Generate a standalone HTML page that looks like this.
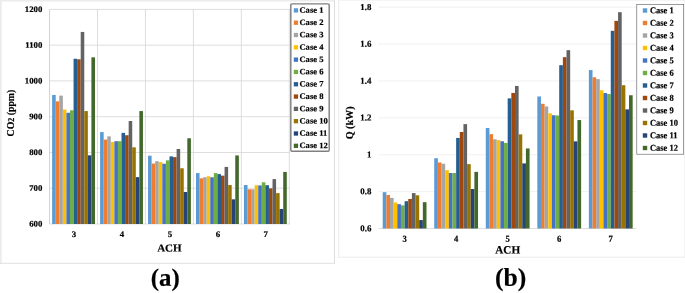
<!DOCTYPE html>
<html><head><meta charset="utf-8"><title>Figure</title>
<style>html,body{margin:0;padding:0;background:#fff;}svg{display:block;}text{font-family:"Liberation Serif","Times New Roman",serif;font-weight:bold;fill:#000;stroke:#000;stroke-width:0.18px;}</style>
</head><body>
<svg width="685" height="293" viewBox="0 0 685 293">
<rect x="0" y="0" width="685" height="293" fill="#ffffff"/>
<g>
<rect x="0" y="0" width="1.7" height="263.8" fill="#ececec"/>
<rect x="0" y="0" width="335" height="1.5" fill="#ececec"/>
<rect x="334" y="0" width="1" height="263.8" fill="#dedede"/>
<rect x="0" y="262.8" width="335" height="1" fill="#e0e0e0"/>
<rect x="338.2" y="0" width="1" height="257.4" fill="#ececec"/>
<rect x="338.2" y="0" width="346.8" height="0.8" fill="#f2f2f2"/>
<rect x="684.3" y="0" width="0.7" height="257.4" fill="#f0f0f0"/>
<rect x="338.2" y="256.7" width="346.8" height="1" fill="#ebebeb"/>
</g>
<g stroke="#d9d9d9" stroke-width="0.9">
<line x1="49.55" y1="224.00" x2="290.10" y2="224.00"/>
<line x1="49.55" y1="188.23" x2="290.10" y2="188.23"/>
<line x1="49.55" y1="152.47" x2="290.10" y2="152.47"/>
<line x1="49.55" y1="116.70" x2="290.10" y2="116.70"/>
<line x1="49.55" y1="80.93" x2="290.10" y2="80.93"/>
<line x1="49.55" y1="45.17" x2="290.10" y2="45.17"/>
<line x1="49.55" y1="9.40" x2="290.10" y2="9.40"/>
<line x1="49.55" y1="9.40" x2="49.55" y2="224.00" stroke="#cdcdcd"/>
<line x1="97.50" y1="9.40" x2="97.50" y2="224.00"/>
<line x1="145.45" y1="9.40" x2="145.45" y2="224.00"/>
<line x1="193.40" y1="9.40" x2="193.40" y2="224.00"/>
<line x1="241.35" y1="9.40" x2="241.35" y2="224.00"/>
<line x1="289.30" y1="9.40" x2="289.30" y2="224.00"/>
</g>
<g>
<rect x="52.15" y="94.99" width="3.57" height="129.01" fill="#5B9BD5"/>
<rect x="55.72" y="101.32" width="3.57" height="122.68" fill="#ED7D31"/>
<rect x="59.29" y="95.60" width="3.57" height="128.40" fill="#A5A5A5"/>
<rect x="62.86" y="109.55" width="3.57" height="114.45" fill="#FFC000"/>
<rect x="66.43" y="112.77" width="3.57" height="111.23" fill="#4472C4"/>
<rect x="70.00" y="110.26" width="3.57" height="113.74" fill="#70AD47"/>
<rect x="73.57" y="58.76" width="3.57" height="165.24" fill="#255E91"/>
<rect x="77.14" y="59.29" width="3.57" height="164.71" fill="#9E480E"/>
<rect x="80.71" y="31.93" width="3.57" height="192.07" fill="#636363"/>
<rect x="84.28" y="111.08" width="3.57" height="112.92" fill="#997300"/>
<rect x="87.85" y="155.33" width="3.57" height="68.67" fill="#264478"/>
<rect x="91.42" y="57.33" width="3.57" height="166.67" fill="#43682B"/>
<rect x="100.10" y="132.08" width="3.57" height="91.92" fill="#5B9BD5"/>
<rect x="103.67" y="139.59" width="3.57" height="84.41" fill="#ED7D31"/>
<rect x="107.24" y="136.37" width="3.57" height="87.63" fill="#A5A5A5"/>
<rect x="110.81" y="142.09" width="3.57" height="81.91" fill="#FFC000"/>
<rect x="114.38" y="141.20" width="3.57" height="82.80" fill="#4472C4"/>
<rect x="117.95" y="141.20" width="3.57" height="82.80" fill="#70AD47"/>
<rect x="121.52" y="132.90" width="3.57" height="91.10" fill="#255E91"/>
<rect x="125.09" y="135.23" width="3.57" height="88.77" fill="#9E480E"/>
<rect x="128.66" y="120.99" width="3.57" height="103.01" fill="#636363"/>
<rect x="132.23" y="147.35" width="3.57" height="76.65" fill="#997300"/>
<rect x="135.80" y="177.15" width="3.57" height="46.85" fill="#264478"/>
<rect x="139.37" y="111.08" width="3.57" height="112.92" fill="#43682B"/>
<rect x="148.05" y="155.69" width="3.57" height="68.31" fill="#5B9BD5"/>
<rect x="151.62" y="163.55" width="3.57" height="60.45" fill="#ED7D31"/>
<rect x="155.19" y="161.23" width="3.57" height="62.77" fill="#A5A5A5"/>
<rect x="158.76" y="162.05" width="3.57" height="61.95" fill="#FFC000"/>
<rect x="162.33" y="163.73" width="3.57" height="60.27" fill="#4472C4"/>
<rect x="165.90" y="160.34" width="3.57" height="63.66" fill="#70AD47"/>
<rect x="169.47" y="156.40" width="3.57" height="67.60" fill="#255E91"/>
<rect x="173.04" y="157.12" width="3.57" height="66.88" fill="#9E480E"/>
<rect x="176.61" y="149.00" width="3.57" height="75.00" fill="#636363"/>
<rect x="180.18" y="168.28" width="3.57" height="55.72" fill="#997300"/>
<rect x="183.75" y="192.02" width="3.57" height="31.98" fill="#264478"/>
<rect x="187.32" y="138.27" width="3.57" height="85.73" fill="#43682B"/>
<rect x="196.00" y="173.07" width="3.57" height="50.93" fill="#5B9BD5"/>
<rect x="199.57" y="178.29" width="3.57" height="45.71" fill="#ED7D31"/>
<rect x="203.14" y="177.29" width="3.57" height="46.71" fill="#A5A5A5"/>
<rect x="206.71" y="176.25" width="3.57" height="47.75" fill="#FFC000"/>
<rect x="210.28" y="177.29" width="3.57" height="46.71" fill="#4472C4"/>
<rect x="213.85" y="173.07" width="3.57" height="50.93" fill="#70AD47"/>
<rect x="217.42" y="174.11" width="3.57" height="49.89" fill="#255E91"/>
<rect x="220.99" y="175.64" width="3.57" height="48.36" fill="#9E480E"/>
<rect x="224.56" y="166.92" width="3.57" height="57.08" fill="#636363"/>
<rect x="228.13" y="185.01" width="3.57" height="38.99" fill="#997300"/>
<rect x="231.70" y="199.32" width="3.57" height="24.68" fill="#264478"/>
<rect x="235.27" y="155.44" width="3.57" height="68.56" fill="#43682B"/>
<rect x="243.95" y="185.01" width="3.57" height="38.99" fill="#5B9BD5"/>
<rect x="247.52" y="189.31" width="3.57" height="34.69" fill="#ED7D31"/>
<rect x="251.09" y="189.31" width="3.57" height="34.69" fill="#A5A5A5"/>
<rect x="254.66" y="185.19" width="3.57" height="38.81" fill="#FFC000"/>
<rect x="258.23" y="185.44" width="3.57" height="38.56" fill="#4472C4"/>
<rect x="261.80" y="182.30" width="3.57" height="41.70" fill="#70AD47"/>
<rect x="265.37" y="185.19" width="3.57" height="38.81" fill="#255E91"/>
<rect x="268.94" y="188.34" width="3.57" height="35.66" fill="#9E480E"/>
<rect x="272.51" y="179.11" width="3.57" height="44.89" fill="#636363"/>
<rect x="276.08" y="193.13" width="3.57" height="30.87" fill="#997300"/>
<rect x="279.65" y="208.98" width="3.57" height="15.02" fill="#264478"/>
<rect x="283.22" y="171.92" width="3.57" height="52.08" fill="#43682B"/>
</g>
<text transform="translate(42.30,226.55) rotate(0.05) scale(1.04,1.0)" font-size="8.45" text-anchor="end">600</text>
<text transform="translate(42.30,190.78) rotate(0.05) scale(1.04,1.0)" font-size="8.45" text-anchor="end">700</text>
<text transform="translate(42.30,155.02) rotate(0.05) scale(1.04,1.0)" font-size="8.45" text-anchor="end">800</text>
<text transform="translate(42.30,119.25) rotate(0.05) scale(1.04,1.0)" font-size="8.45" text-anchor="end">900</text>
<text transform="translate(42.30,83.48) rotate(0.05) scale(1.04,1.0)" font-size="8.45" text-anchor="end">1000</text>
<text transform="translate(42.30,47.72) rotate(0.05) scale(1.04,1.0)" font-size="8.45" text-anchor="end">1100</text>
<text transform="translate(42.30,11.95) rotate(0.05) scale(1.04,1.0)" font-size="8.45" text-anchor="end">1200</text>
<text transform="translate(74.03,237.10) rotate(0.05) scale(1.04,1.0)" font-size="8.5" text-anchor="middle">3</text>
<text transform="translate(121.98,237.10) rotate(0.05) scale(1.04,1.0)" font-size="8.5" text-anchor="middle">4</text>
<text transform="translate(169.93,237.10) rotate(0.05) scale(1.04,1.0)" font-size="8.5" text-anchor="middle">5</text>
<text transform="translate(217.88,237.10) rotate(0.05) scale(1.04,1.0)" font-size="8.5" text-anchor="middle">6</text>
<text transform="translate(265.82,237.10) rotate(0.05) scale(1.04,1.0)" font-size="8.5" text-anchor="middle">7</text>
<text transform="translate(169.40,251.60) rotate(0.05) scale(1.04,1.0)" font-size="10.6" text-anchor="middle">ACH</text>
<text transform="translate(14.10,113.10) rotate(-90) scale(1,1.07)" font-size="9.8" text-anchor="middle">CO<tspan font-size="8">2</tspan> (ppm)</text>
<rect x="290.8" y="3.85" width="38.4" height="147.3" rx="1.2" fill="#fff" stroke="#808080" stroke-width="1.45"/>
<rect x="293.8" y="8.25" width="4.3" height="4.3" fill="#5B9BD5"/>
<text transform="translate(299.40,12.70) rotate(0.05) scale(1.03,1)" font-size="8.35">Case 1</text>
<rect x="293.8" y="20.56" width="4.3" height="4.3" fill="#ED7D31"/>
<text transform="translate(299.40,25.01) rotate(0.05) scale(1.03,1)" font-size="8.35">Case 2</text>
<rect x="293.8" y="32.87" width="4.3" height="4.3" fill="#A5A5A5"/>
<text transform="translate(299.40,37.32) rotate(0.05) scale(1.03,1)" font-size="8.35">Case 3</text>
<rect x="293.8" y="45.18" width="4.3" height="4.3" fill="#FFC000"/>
<text transform="translate(299.40,49.63) rotate(0.05) scale(1.03,1)" font-size="8.35">Case 4</text>
<rect x="293.8" y="57.49" width="4.3" height="4.3" fill="#4472C4"/>
<text transform="translate(299.40,61.94) rotate(0.05) scale(1.03,1)" font-size="8.35">Case 5</text>
<rect x="293.8" y="69.80" width="4.3" height="4.3" fill="#70AD47"/>
<text transform="translate(299.40,74.25) rotate(0.05) scale(1.03,1)" font-size="8.35">Case 6</text>
<rect x="293.8" y="82.11" width="4.3" height="4.3" fill="#255E91"/>
<text transform="translate(299.40,86.56) rotate(0.05) scale(1.03,1)" font-size="8.35">Case 7</text>
<rect x="293.8" y="94.42" width="4.3" height="4.3" fill="#9E480E"/>
<text transform="translate(299.40,98.87) rotate(0.05) scale(1.03,1)" font-size="8.35">Case 8</text>
<rect x="293.8" y="106.73" width="4.3" height="4.3" fill="#636363"/>
<text transform="translate(299.40,111.18) rotate(0.05) scale(1.03,1)" font-size="8.35">Case 9</text>
<rect x="293.8" y="119.04" width="4.3" height="4.3" fill="#997300"/>
<text transform="translate(299.40,123.49) rotate(0.05) scale(1.03,1)" font-size="8.35">Case 10</text>
<rect x="293.8" y="131.35" width="4.3" height="4.3" fill="#264478"/>
<text transform="translate(299.40,135.80) rotate(0.05) scale(1.03,1)" font-size="8.35">Case 11</text>
<rect x="293.8" y="143.66" width="4.3" height="4.3" fill="#43682B"/>
<text transform="translate(299.40,148.11) rotate(0.05) scale(1.03,1)" font-size="8.35">Case 12</text>
<text transform="translate(165.30,285.70) rotate(0.05)" font-size="24.9" text-anchor="middle">(a)</text>
<g stroke="#eeeeee" stroke-width="0.9">
<line x1="378.50" y1="228.50" x2="636.20" y2="228.50" stroke="#d9d9d9"/>
<line x1="378.50" y1="191.62" x2="636.20" y2="191.62"/>
<line x1="378.50" y1="154.73" x2="636.20" y2="154.73"/>
<line x1="378.50" y1="117.85" x2="636.20" y2="117.85"/>
<line x1="378.50" y1="80.97" x2="636.20" y2="80.97"/>
<line x1="378.50" y1="44.08" x2="636.20" y2="44.08"/>
<line x1="378.50" y1="7.20" x2="636.20" y2="7.20"/>
</g>
<g>
<rect x="382.70" y="192.17" width="3.65" height="36.33" fill="#5B9BD5"/>
<rect x="386.35" y="195.01" width="3.65" height="33.49" fill="#ED7D31"/>
<rect x="390.00" y="197.89" width="3.65" height="30.61" fill="#A5A5A5"/>
<rect x="393.65" y="202.50" width="3.65" height="26.00" fill="#FFC000"/>
<rect x="397.30" y="204.16" width="3.65" height="24.34" fill="#4472C4"/>
<rect x="400.95" y="205.36" width="3.65" height="23.14" fill="#70AD47"/>
<rect x="404.60" y="201.21" width="3.65" height="27.29" fill="#255E91"/>
<rect x="408.25" y="198.99" width="3.65" height="29.51" fill="#9E480E"/>
<rect x="411.90" y="193.09" width="3.65" height="35.41" fill="#636363"/>
<rect x="415.55" y="195.31" width="3.65" height="33.19" fill="#997300"/>
<rect x="419.20" y="220.05" width="3.65" height="8.45" fill="#264478"/>
<rect x="422.85" y="202.20" width="3.65" height="26.30" fill="#43682B"/>
<rect x="434.24" y="158.24" width="3.65" height="70.26" fill="#5B9BD5"/>
<rect x="437.89" y="162.48" width="3.65" height="66.02" fill="#ED7D31"/>
<rect x="441.54" y="163.77" width="3.65" height="64.73" fill="#A5A5A5"/>
<rect x="445.19" y="170.22" width="3.65" height="58.28" fill="#FFC000"/>
<rect x="448.84" y="172.99" width="3.65" height="55.51" fill="#4472C4"/>
<rect x="452.49" y="172.99" width="3.65" height="55.51" fill="#70AD47"/>
<rect x="456.14" y="137.95" width="3.65" height="90.55" fill="#255E91"/>
<rect x="459.79" y="131.99" width="3.65" height="96.51" fill="#9E480E"/>
<rect x="463.44" y="124.12" width="3.65" height="104.38" fill="#636363"/>
<rect x="467.09" y="164.14" width="3.65" height="64.36" fill="#997300"/>
<rect x="470.74" y="189.03" width="3.65" height="39.47" fill="#264478"/>
<rect x="474.39" y="171.88" width="3.65" height="56.62" fill="#43682B"/>
<rect x="485.78" y="127.99" width="3.65" height="100.51" fill="#5B9BD5"/>
<rect x="489.43" y="134.13" width="3.65" height="94.37" fill="#ED7D31"/>
<rect x="493.08" y="139.32" width="3.65" height="89.18" fill="#A5A5A5"/>
<rect x="496.73" y="140.16" width="3.65" height="88.34" fill="#FFC000"/>
<rect x="500.38" y="141.27" width="3.65" height="87.23" fill="#4472C4"/>
<rect x="504.03" y="142.93" width="3.65" height="85.57" fill="#70AD47"/>
<rect x="507.68" y="98.36" width="3.65" height="130.14" fill="#255E91"/>
<rect x="511.33" y="92.95" width="3.65" height="135.55" fill="#9E480E"/>
<rect x="514.98" y="85.95" width="3.65" height="142.55" fill="#636363"/>
<rect x="518.63" y="134.36" width="3.65" height="94.14" fill="#997300"/>
<rect x="522.28" y="163.40" width="3.65" height="65.10" fill="#264478"/>
<rect x="525.93" y="148.46" width="3.65" height="80.04" fill="#43682B"/>
<rect x="537.32" y="96.46" width="3.65" height="132.04" fill="#5B9BD5"/>
<rect x="540.97" y="103.83" width="3.65" height="124.67" fill="#ED7D31"/>
<rect x="544.62" y="106.42" width="3.65" height="122.08" fill="#A5A5A5"/>
<rect x="548.27" y="113.31" width="3.65" height="115.19" fill="#FFC000"/>
<rect x="551.92" y="115.27" width="3.65" height="113.23" fill="#4472C4"/>
<rect x="555.57" y="115.45" width="3.65" height="113.05" fill="#70AD47"/>
<rect x="559.22" y="65.20" width="3.65" height="163.30" fill="#255E91"/>
<rect x="562.87" y="57.18" width="3.65" height="171.32" fill="#9E480E"/>
<rect x="566.52" y="50.17" width="3.65" height="178.33" fill="#636363"/>
<rect x="570.17" y="110.34" width="3.65" height="118.16" fill="#997300"/>
<rect x="573.82" y="141.34" width="3.65" height="87.16" fill="#264478"/>
<rect x="577.47" y="120.06" width="3.65" height="108.44" fill="#43682B"/>
<rect x="588.86" y="70.09" width="3.65" height="158.41" fill="#5B9BD5"/>
<rect x="592.51" y="77.28" width="3.65" height="151.22" fill="#ED7D31"/>
<rect x="596.16" y="79.12" width="3.65" height="149.38" fill="#A5A5A5"/>
<rect x="599.81" y="90.26" width="3.65" height="138.24" fill="#FFC000"/>
<rect x="603.46" y="93.05" width="3.65" height="135.45" fill="#4472C4"/>
<rect x="607.11" y="94.06" width="3.65" height="134.44" fill="#70AD47"/>
<rect x="610.76" y="30.81" width="3.65" height="197.69" fill="#255E91"/>
<rect x="614.41" y="20.85" width="3.65" height="207.65" fill="#9E480E"/>
<rect x="618.06" y="12.18" width="3.65" height="216.32" fill="#636363"/>
<rect x="621.71" y="85.21" width="3.65" height="143.29" fill="#997300"/>
<rect x="625.36" y="109.37" width="3.65" height="119.13" fill="#264478"/>
<rect x="629.01" y="95.26" width="3.65" height="133.24" fill="#43682B"/>
</g>
<text transform="translate(371.30,231.20) rotate(0.05) scale(1,1.02)" font-size="8.85" text-anchor="end">0.6</text>
<text transform="translate(371.30,194.32) rotate(0.05) scale(1,1.02)" font-size="8.85" text-anchor="end">0.8</text>
<text transform="translate(371.30,157.43) rotate(0.05) scale(1,1.02)" font-size="8.85" text-anchor="end">1</text>
<text transform="translate(371.30,120.55) rotate(0.05) scale(1,1.02)" font-size="8.85" text-anchor="end">1.2</text>
<text transform="translate(371.30,83.67) rotate(0.05) scale(1,1.02)" font-size="8.85" text-anchor="end">1.4</text>
<text transform="translate(371.30,46.78) rotate(0.05) scale(1,1.02)" font-size="8.85" text-anchor="end">1.6</text>
<text transform="translate(371.30,9.90) rotate(0.05) scale(1,1.02)" font-size="8.85" text-anchor="end">1.8</text>
<text transform="translate(404.57,241.80) rotate(0.05) scale(1.0,1.05)" font-size="8.6" text-anchor="middle">3</text>
<text transform="translate(456.11,241.80) rotate(0.05) scale(1.0,1.05)" font-size="8.6" text-anchor="middle">4</text>
<text transform="translate(507.65,241.80) rotate(0.05) scale(1.0,1.05)" font-size="8.6" text-anchor="middle">5</text>
<text transform="translate(559.19,241.80) rotate(0.05) scale(1.0,1.05)" font-size="8.6" text-anchor="middle">6</text>
<text transform="translate(610.73,241.80) rotate(0.05) scale(1.0,1.05)" font-size="8.6" text-anchor="middle">7</text>
<text transform="translate(507.70,253.40) rotate(0.05)" font-size="11.2" text-anchor="middle">ACH</text>
<text transform="translate(352.70,122.90) rotate(-90) scale(1,1.1)" font-size="10.1" text-anchor="middle">Q (kW)</text>
<rect x="636.8" y="4.6" width="46.9" height="149.6" fill="#fff" stroke="#595959" stroke-width="0.6"/>
<rect x="642.8" y="8.30" width="4.4" height="4.4" fill="#5B9BD5"/>
<text transform="translate(649.90,13.25) rotate(0.05) scale(1.0,1.05)" font-size="8.5">Case 1</text>
<rect x="642.8" y="20.80" width="4.4" height="4.4" fill="#ED7D31"/>
<text transform="translate(649.90,25.75) rotate(0.05) scale(1.0,1.05)" font-size="8.5">Case 2</text>
<rect x="642.8" y="33.30" width="4.4" height="4.4" fill="#A5A5A5"/>
<text transform="translate(649.90,38.25) rotate(0.05) scale(1.0,1.05)" font-size="8.5">Case 3</text>
<rect x="642.8" y="45.80" width="4.4" height="4.4" fill="#FFC000"/>
<text transform="translate(649.90,50.75) rotate(0.05) scale(1.0,1.05)" font-size="8.5">Case 4</text>
<rect x="642.8" y="58.30" width="4.4" height="4.4" fill="#4472C4"/>
<text transform="translate(649.90,63.25) rotate(0.05) scale(1.0,1.05)" font-size="8.5">Case 5</text>
<rect x="642.8" y="70.80" width="4.4" height="4.4" fill="#70AD47"/>
<text transform="translate(649.90,75.75) rotate(0.05) scale(1.0,1.05)" font-size="8.5">Case 6</text>
<rect x="642.8" y="83.30" width="4.4" height="4.4" fill="#255E91"/>
<text transform="translate(649.90,88.25) rotate(0.05) scale(1.0,1.05)" font-size="8.5">Case 7</text>
<rect x="642.8" y="95.80" width="4.4" height="4.4" fill="#9E480E"/>
<text transform="translate(649.90,100.75) rotate(0.05) scale(1.0,1.05)" font-size="8.5">Case 8</text>
<rect x="642.8" y="108.30" width="4.4" height="4.4" fill="#636363"/>
<text transform="translate(649.90,113.25) rotate(0.05) scale(1.0,1.05)" font-size="8.5">Case 9</text>
<rect x="642.8" y="120.80" width="4.4" height="4.4" fill="#997300"/>
<text transform="translate(649.90,125.75) rotate(0.05) scale(1.0,1.05)" font-size="8.5">Case 10</text>
<rect x="642.8" y="133.30" width="4.4" height="4.4" fill="#264478"/>
<text transform="translate(649.90,138.25) rotate(0.05) scale(1.0,1.05)" font-size="8.5">Case 11</text>
<rect x="642.8" y="145.80" width="4.4" height="4.4" fill="#43682B"/>
<text transform="translate(649.90,150.75) rotate(0.05) scale(1.0,1.05)" font-size="8.5">Case 12</text>
<text transform="translate(510.70,285.70) rotate(0.05)" font-size="25.6" text-anchor="middle">(b)</text>
</svg>
</body></html>
